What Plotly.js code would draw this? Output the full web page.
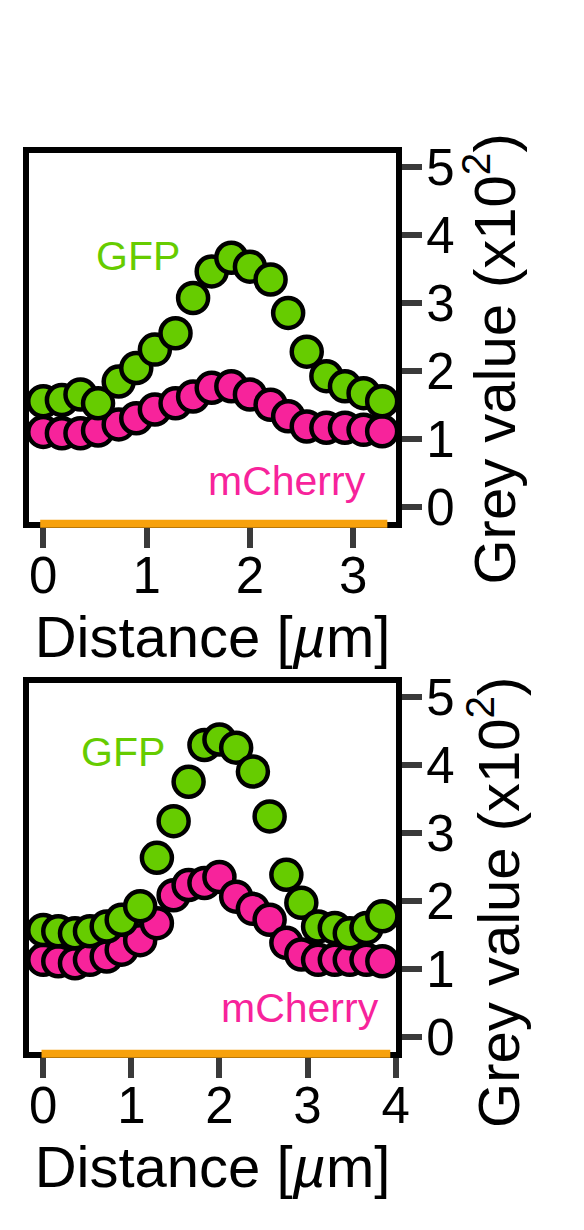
<!DOCTYPE html>
<html>
<head>
<meta charset="utf-8">
<script src="https://cdn.plot.ly/plotly-3.0.1.min.js"></script>
<style>
  html, body { margin: 0; padding: 0; background: #fff; }
  #chart { width: 584px; height: 1230px; }
</style>
</head>
<body>
<div id="chart"></div>
<script>

/*** DATA ***/
// top profile
var topDist = [0, 0.18, 0.36, 0.53, 0.73, 0.90, 1.08, 1.28, 1.45, 1.63, 1.82, 2.00, 2.20, 2.37, 2.55, 2.74, 2.92, 3.10, 3.28];
var topGFP = [1.55, 1.57, 1.65, 1.52, 1.84, 2.04, 2.31, 2.55, 3.07, 3.46, 3.66, 3.53, 3.34, 2.85, 2.28, 1.92, 1.77, 1.67, 1.55];
var topCherry = [1.10, 1.08, 1.08, 1.12, 1.21, 1.30, 1.43, 1.52, 1.62, 1.75, 1.77, 1.65, 1.50, 1.33, 1.18, 1.16, 1.16, 1.13, 1.11];
var topLineLen = [-0.03, 3.33];

// bottom profile
var botDist = [0, 0.17, 0.36, 0.53, 0.72, 0.89, 1.10, 1.29, 1.48, 1.65, 1.83, 2.00, 2.19, 2.38, 2.57, 2.76, 2.93, 3.12, 3.31, 3.48, 3.67, 3.85];
var botGFP = [1.57, 1.55, 1.52, 1.55, 1.62, 1.72, 1.92, 2.63, 3.17, 3.75, 4.29, 4.37, 4.25, 3.90, 3.24, 2.38, 1.97, 1.62, 1.60, 1.52, 1.60, 1.77];
var botCherry = [1.13, 1.11, 1.08, 1.13, 1.18, 1.28, 1.42, 1.67, 2.08, 2.23, 2.26, 2.35, 2.06, 1.88, 1.72, 1.38, 1.21, 1.13, 1.13, 1.13, 1.13, 1.11];
var botLineLen = [-0.02, 3.94];

var seriesNames = ["GFP", "mCherry"];
var xTicksTop = [0, 1, 2, 3];
var xTicksBot = [0, 1, 2, 3, 4];
var yTicks = [0, 1, 2, 3, 4, 5];
var xTitle = "Distance [<i>µ</i>m]";
var yTitle = "Grey value (x10<sup>2</sup>)";

/*** STYLE ***/
var FONT = "Liberation Sans, Arial, Helvetica, sans-serif";
var GREEN = "#66cc00";
var PINK = "#f7239b";
var ORANGE = "#f7a10c";
var TICKGREY = "#3a3a3a";

function make_trace(x, y, name, color, xa, ya) {
    return {
        x: x,
        y: y,
        name: name,
        type: "scatter",
        mode: "markers",
        xaxis: xa,
        yaxis: ya,
        marker: {
            size: 30,
            color: color,
            line: { color: "#000", width: 4.5 }
        },
        hoverinfo: "x+y+name"
    };
}

function x_axis(domain, range, ticks, anchor) {
    return {
        domain: domain,
        range: range,
        anchor: anchor,
        tickvals: ticks,
        ticktext: ticks.map(String),
        showgrid: false,
        zeroline: false,
        showline: true,
        mirror: true,
        linecolor: "#000",
        linewidth: 6,
        ticks: "outside",
        ticklen: 20,
        tickwidth: 6,
        tickcolor: TICKGREY,
        ticklabelstandoff: -16,
        tickfont: { family: FONT, size: 51, color: "#000" },
        title: { text: xTitle, font: { family: FONT, size: 58, color: "#000" }, standoff: 2 }
    };
}

function y_axis(domain, anchor) {
    return {
        domain: domain,
        range: [-0.225, 5.201],
        anchor: anchor,
        side: "right",
        tickvals: yTicks,
        ticktext: yTicks.map(String),
        showgrid: false,
        zeroline: false,
        showline: true,
        mirror: true,
        linecolor: "#000",
        linewidth: 6,
        ticks: "outside",
        ticklen: 20,
        tickwidth: 6,
        tickcolor: TICKGREY,
        ticklabelstandoff: -6,
        tickfont: { family: FONT, size: 51, color: "#000" }
    };
}

function label(text, x, y, xref, yref, color) {
    return {
        text: text,
        x: x, y: y,
        xref: xref, yref: yref,
        xanchor: "center", yanchor: "middle",
        showarrow: false,
        font: { family: FONT, size: 41, color: color }
    };
}

// y title as a rotated note, so it can sit a little below the panel centre like the original
function y_title(x, y) {
    return {
        text: yTitle,
        x: x, y: y,
        xref: "paper", yref: "paper",
        xanchor: "center", yanchor: "middle",
        textangle: -90,
        showarrow: false,
        font: { family: FONT, size: 58, color: "#000" }
    };
}

function orange_line(range, xref, yref) {
    return {
        type: "line",
        xref: xref, yref: yref,
        x0: range[0], x1: range[1],
        y0: -0.005, y1: -0.005,
        layer: "above",
        line: { color: ORANGE, width: 8 }
    };
}

/*** PLOT ***/
var data = [
    make_trace(topDist, topCherry, seriesNames[1], PINK, "x", "y"),
    make_trace(topDist, topGFP, seriesNames[0], GREEN, "x", "y"),
    make_trace(botDist, botCherry, seriesNames[1], PINK, "x2", "y2"),
    make_trace(botDist, botGFP, seriesNames[0], GREEN, "x2", "y2")
];

var layout = {
    width: 584,
    height: 1230,
    margin: { l: 0, r: 0, t: 0, b: 0 },
    paper_bgcolor: "#fff",
    plot_bgcolor: "#fff",
    showlegend: false,
    xaxis: x_axis([0.0497, 0.6781], [-0.138, 3.414], xTicksTop, "y"),
    yaxis: y_axis([0.5756, 0.8756], "x"),
    xaxis2: x_axis([0.0497, 0.6781], [-0.162, 4.005], xTicksBot, "y2"),
    yaxis2: y_axis([0.1447, 0.4447], "x2"),
    annotations: [
        label(seriesNames[0], 0.92, 3.68, "x", "y", GREEN),
        label(seriesNames[1], 2.36, 0.38, "x", "y", PINK),
        label(seriesNames[0], 0.91, 4.18, "x2", "y2", GREEN),
        label(seriesNames[1], 2.92, 0.42, "x2", "y2", PINK),
        y_title(0.838, 0.708),
        y_title(0.846, 0.266)
    ],
    shapes: [
        orange_line(topLineLen, "x", "y domain"),
        orange_line(botLineLen, "x2", "y2 domain")
    ]
};

Plotly.newPlot("chart", data, layout, { staticPlot: true });

</script>
</body>
</html>
